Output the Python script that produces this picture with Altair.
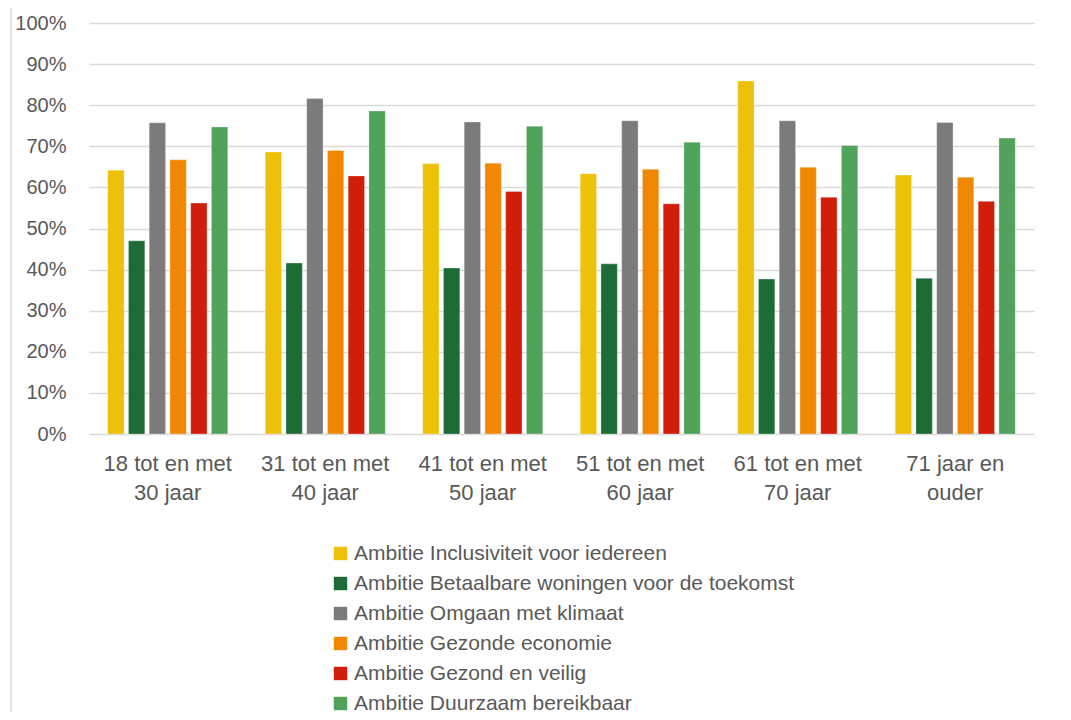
import altair as alt
import pandas as pd

categories = [
    "18 tot en met\n30 jaar",
    "31 tot en met\n40 jaar",
    "41 tot en met\n50 jaar",
    "51 tot en met\n60 jaar",
    "61 tot en met\n70 jaar",
    "71 jaar en\nouder",
]
series = [
    "Ambitie Inclusiviteit voor iedereen",
    "Ambitie Betaalbare woningen voor de toekomst",
    "Ambitie Omgaan met klimaat",
    "Ambitie Gezonde economie",
    "Ambitie Gezond en veilig",
    "Ambitie Duurzaam bereikbaar",
]
colors = ["#EDC10A", "#1D6B36", "#7B7B7B", "#F08700", "#D01E0B", "#51A25B"]

inclusiviteit = [0.642, 0.686, 0.658, 0.633, 0.859, 0.630]
betaalbaar = [0.470, 0.416, 0.404, 0.414, 0.377, 0.379]
klimaat = [0.757, 0.816, 0.759, 0.762, 0.762, 0.758]
economie = [0.667, 0.690, 0.659, 0.644, 0.649, 0.625]
veilig = [0.562, 0.628, 0.590, 0.560, 0.576, 0.566]
bereikbaar = [0.747, 0.786, 0.749, 0.710, 0.702, 0.720]

values = [inclusiviteit, betaalbaar, klimaat, economie, veilig, bereikbaar]
rows = []
for s, vals in zip(series, values):
    for c, v in zip(categories, vals):
        rows.append({"cat": c, "series": s, "value": v})
df = pd.DataFrame(rows)

W, H = 945, 411
FONT = "Liberation Sans"
TXT = "#595959"

bars = alt.Chart(df).mark_bar(stroke="white", strokeWidth=0.6, strokeOpacity=0.5).encode(
    x=alt.X("cat:N", sort=categories, title=None,
            scale=alt.Scale(paddingInner=0.21, paddingOuter=0.105),
            axis=alt.Axis(labelAngle=0, labelFontSize=22, labelColor=TXT, labelFont=FONT,
                          labelExpr="split(datum.label, '\\n')", labelLineHeight=29,
                          labelPadding=19, ticks=False, domain=False, labelBaseline="top")),
    xOffset=alt.XOffset("series:N", sort=series,
                        scale=alt.Scale(paddingInner=0.21, paddingOuter=0.105)),
    y=alt.Y("value:Q", title=None,
            scale=alt.Scale(domain=[0, 1], nice=False),
            axis=alt.Axis(values=[i / 10 for i in range(11)], format=".0%",
                          labelFontSize=20, labelColor=TXT, labelFont=FONT,
                          labelPadding=23, ticks=False, domain=False,
                          grid=True, gridColor="#D9D9D9", gridWidth=1.5)),
    color=alt.Color("series:N", sort=series,
                    scale=alt.Scale(domain=series, range=colors),
                    legend=alt.Legend(title=None, orient="none", legendX=241, legendY=520,
                                      symbolType="square", symbolSize=180, symbolStrokeWidth=0,
                                      labelFontSize=21, labelColor=TXT, labelFont=FONT,
                                      labelLimit=700, rowPadding=8, labelOffset=3,
                                      columns=1)),
)

frame_top = alt.Chart(pd.DataFrame({"k": [0]})).mark_rule(color="#D9D9D9", strokeWidth=1.5).encode(
    x=alt.value(-78), x2=alt.value(W + 40), y=alt.value(-16)
)
frame_left = alt.Chart(pd.DataFrame({"k": [0]})).mark_rule(color="#D9D9D9", strokeWidth=1.5).encode(
    x=alt.value(-78), y=alt.value(-16), y2=alt.value(H + 300)
)

chart = alt.layer(frame_top, frame_left, bars).properties(
    width=W, height=H,
    autosize=alt.AutoSizeParams(type="none"),
    padding={"left": 81, "top": 15, "right": 29, "bottom": 278},
).configure(background="white").configure_view(strokeWidth=0, stroke="transparent")

chart.save("out.html", embed_options={"renderer": "svg", "actions": False})
